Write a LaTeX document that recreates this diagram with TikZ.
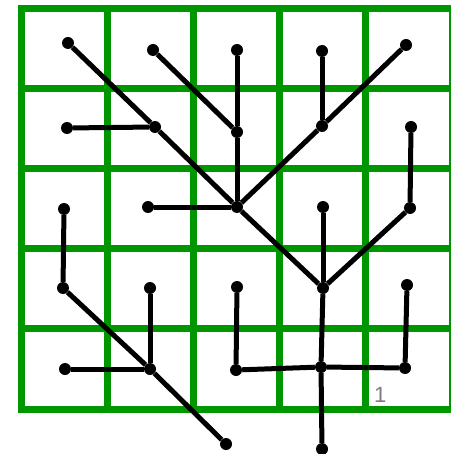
\documentclass[tikz,border=0pt]{standalone}
\usepackage{fontspec}
\setsansfont{Liberation Sans}
\usetikzlibrary{arrows.meta, positioning}
\definecolor{gridGreen}{RGB}{0, 150, 0}
\definecolor{labelGray}{RGB}{125, 125, 125}

\begin{document}
\begin{tikzpicture}[x=1pt, y=-1pt,
    vtx/.style={circle, fill=black, inner sep=0pt, minimum size=12pt},
    branch/.style={line width=5pt, black},
    cellline/.style={line width=7pt, gridGreen, line cap=rect}]
    \useasboundingbox (0,0) rectangle (450,454);
    % grid of 5 x 5 cells
    \foreach \i in {0,...,5} {
        \draw[cellline] ({21+86.2*\i},8.5) -- ({21+86.2*\i},409);
        \draw[cellline] (21,{8.5+80.1*\i}) -- (452,{8.5+80.1*\i});
    }
    % dots, named by row and column
    \foreach \r/\c/\x/\y in {1/1/68/43, 1/2/153/50, 1/3/237/50, 1/4/322/51, 1/5/406/45,
                             2/1/67/128, 2/2/155/127, 2/3/237/132, 2/4/322/126, 2/5/411/127,
                             3/1/64/209, 3/2/148/207, 3/3/237/207, 3/4/323/207, 3/5/410/208,
                             4/1/63/288, 4/2/150/288, 4/3/237/287, 4/4/323/288, 4/5/407/285,
                             5/1/65/369, 5/2/150/369, 5/3/236/370, 5/4/321/367, 5/5/405/368,
                             6/3/226/444, 6/4/322/449} {
        \node[vtx] (n\r\c) at (\x,\y) {};
    }
    % branches
    \foreach \a/\b in {11/22, 21/22, 22/33, 12/23, 13/23, 23/33, 32/33,
                       33/24, 24/14, 24/15, 33/44, 34/44, 44/35, 35/25,
                       44/54, 54/64, 54/53, 53/43, 54/55, 55/45,
                       31/41, 41/52, 52/51, 52/42, 52/63} {
        \draw[branch] (n\a) -- (n\b);
    }
    \node[anchor=base west, inner sep=0pt, text=labelGray, font=\sffamily\fontsize{22}{22}\selectfont] (lbl) at (374,402) {1};
\end{tikzpicture}
\end{document}
